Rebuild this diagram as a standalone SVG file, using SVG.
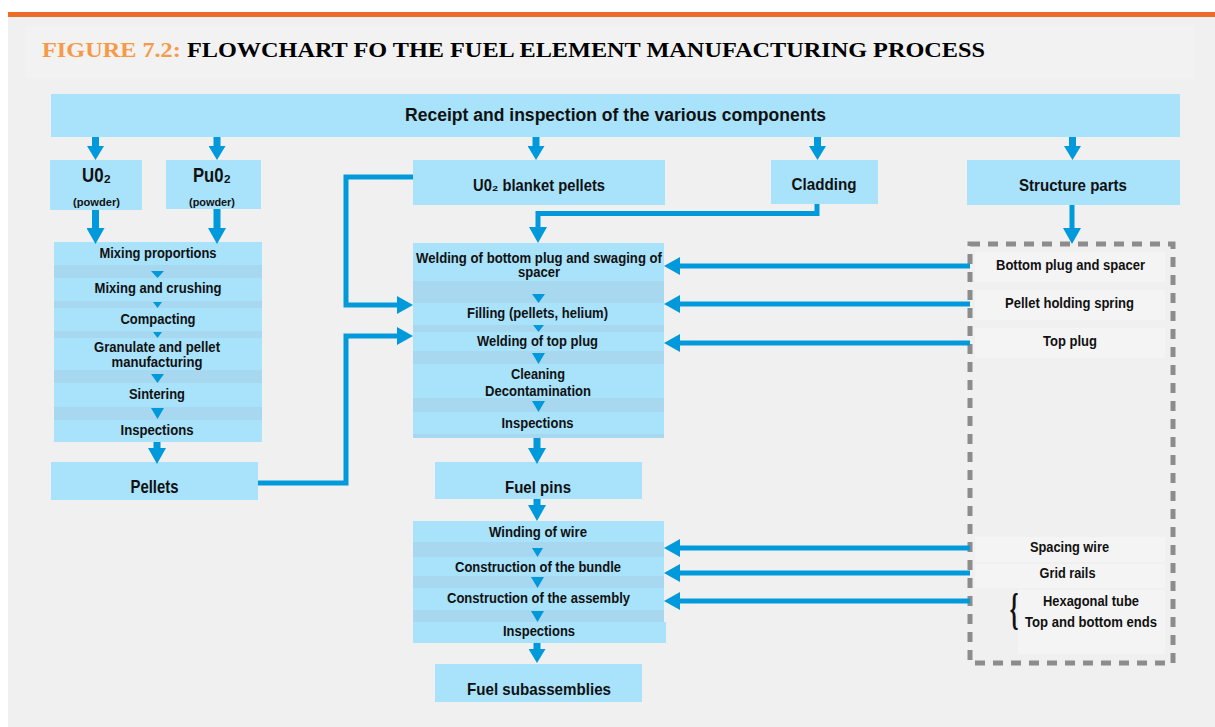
<svg xmlns="http://www.w3.org/2000/svg" width="1215" height="727" viewBox="0 0 1215 727">
<style>
.bx{fill:#a8e2fb}
.bd{fill:#a8d8ef}
.t{font-family:"Liberation Sans",Arial,sans-serif;font-weight:bold;fill:#111;text-anchor:middle}
.ln{fill:none;stroke:#0099db;stroke-width:5}
.lt{fill:none;stroke:#0099db;stroke-width:7}
.tri{fill:#0099db}
.lbl{fill:#f4f4f4}
</style>
<defs>
<marker id="ah" markerUnits="userSpaceOnUse" viewBox="0 0 16 18" markerWidth="16" markerHeight="18" refX="0" refY="9" orient="auto"><path d="M0,0 L16,9 L0,18 z" fill="#0099db"/></marker>
<marker id="ad" markerUnits="userSpaceOnUse" viewBox="0 0 14 17" markerWidth="14" markerHeight="17" refX="0" refY="8.5" orient="auto"><path d="M0,0 L14,8.5 L0,17 z" fill="#0099db"/></marker>
</defs>
<rect x="0" y="0" width="1215" height="727" fill="#ffffff"/>
<rect x="8" y="17" width="1207" height="710" fill="#f0f0f0"/>
<rect x="8" y="12" width="1207" height="5" fill="#ec6b28"/>
<g id="title">
<rect x="26" y="26" width="1168" height="52" fill="#f2f2f2"/>
<text x="42" y="57" font-family="'Liberation Serif','Times New Roman',serif" font-weight="bold" font-size="21" textLength="943" lengthAdjust="spacingAndGlyphs"><tspan fill="#f79a48">FIGURE 7.2:</tspan><tspan fill="#000"> FLOWCHART FO THE FUEL ELEMENT MANUFACTURING PROCESS</tspan></text>
</g>
<g id="receipt">
<rect class="bx" x="51" y="94" width="1129" height="43"/>
<text class="t" x="615.5" y="121" font-size="18" textLength="421" lengthAdjust="spacingAndGlyphs">Receipt and inspection of the various components</text>
</g>
<g id="uo2">
<rect class="bx" x="50" y="160" width="92" height="50"/>
<text class="t" x="96.5" y="182" font-size="21" textLength="29" lengthAdjust="spacingAndGlyphs">U0₂</text>
<text class="t" x="96.5" y="206" font-size="11" textLength="47" lengthAdjust="spacingAndGlyphs">(powder)</text>
</g>
<g id="puo2">
<rect class="bx" x="166" y="160" width="95" height="49"/>
<text class="t" x="212" y="182" font-size="21" textLength="38" lengthAdjust="spacingAndGlyphs">Pu0₂</text>
<text class="t" x="212" y="206" font-size="11" textLength="46" lengthAdjust="spacingAndGlyphs">(powder)</text>
</g>
<g id="pellet-process">
<rect class="bx" x="54" y="242" width="208" height="200"/>
<rect class="bd" x="54" y="265" width="208" height="13"/>
<rect class="bd" x="54" y="301" width="208" height="7"/>
<rect class="bd" x="54" y="331" width="208" height="7"/>
<rect class="bd" x="54" y="370" width="208" height="13"/>
<rect class="bd" x="54" y="407" width="208" height="13"/>
<polygon class="tri" points="151,271 164,271 157.5,278"/>
<polygon class="tri" points="153,302 162,302 157.5,308"/>
<polygon class="tri" points="153,332 162,332 157.5,338"/>
<polygon class="tri" points="151,374 164,374 157.5,383"/>
<polygon class="tri" points="151,408 164,408 157.5,419"/>
<text class="t" x="158" y="258" font-size="14" textLength="117" lengthAdjust="spacingAndGlyphs">Mixing proportions</text>
<text class="t" x="158" y="293" font-size="14" textLength="127" lengthAdjust="spacingAndGlyphs">Mixing and crushing</text>
<text class="t" x="158" y="324" font-size="14" textLength="75" lengthAdjust="spacingAndGlyphs">Compacting</text>
<text class="t" x="157" y="352" font-size="14" textLength="126" lengthAdjust="spacingAndGlyphs">Granulate and pellet</text>
<text class="t" x="157" y="367" font-size="14" textLength="91" lengthAdjust="spacingAndGlyphs">manufacturing</text>
<text class="t" x="157" y="399" font-size="14" textLength="56" lengthAdjust="spacingAndGlyphs">Sintering</text>
<text class="t" x="157" y="435" font-size="14" textLength="73" lengthAdjust="spacingAndGlyphs">Inspections</text>
</g>
<g id="pellets">
<rect class="bx" x="51" y="462" width="207" height="38"/>
<text class="t" x="154.5" y="493" font-size="18" textLength="48" lengthAdjust="spacingAndGlyphs">Pellets</text>
</g>
<g id="blanket">
<rect class="bx" x="413" y="160" width="252" height="45"/>
<text class="t" x="539" y="191" font-size="16" textLength="132" lengthAdjust="spacingAndGlyphs">U0₂ blanket pellets</text>
</g>
<g id="cladding">
<rect class="bx" x="771" y="160" width="107" height="44"/>
<text class="t" x="824" y="190" font-size="16" textLength="65" lengthAdjust="spacingAndGlyphs">Cladding</text>
</g>
<g id="structure">
<rect class="bx" x="967" y="160" width="213" height="45"/>
<text class="t" x="1073" y="191" font-size="16" textLength="108" lengthAdjust="spacingAndGlyphs">Structure parts</text>
</g>
<g id="pin-process">
<rect class="bx" x="413" y="243" width="251" height="195"/>
<rect class="bd" x="413" y="281" width="251" height="22"/>
<rect class="bd" x="413" y="325" width="251" height="7"/>
<rect class="bd" x="413" y="351" width="251" height="13"/>
<rect class="bd" x="413" y="398" width="251" height="14"/>
<rect class="bd" x="413" y="434" width="251" height="4"/>
<polygon class="tri" points="532,294 545,294 538.5,303"/>
<polygon class="tri" points="533,325 544,325 538.5,332"/>
<polygon class="tri" points="532,353 545,353 538.5,364"/>
<polygon class="tri" points="532,401 545,401 538.5,412"/>
<text class="t" x="539" y="263" font-size="14" textLength="246" lengthAdjust="spacingAndGlyphs">Welding of bottom plug and swaging of</text>
<text class="t" x="539" y="277" font-size="14" textLength="42" lengthAdjust="spacingAndGlyphs">spacer</text>
<text class="t" x="537.5" y="318" font-size="14" textLength="141" lengthAdjust="spacingAndGlyphs">Filling (pellets, helium)</text>
<text class="t" x="537.5" y="346" font-size="14" textLength="121" lengthAdjust="spacingAndGlyphs">Welding of top plug</text>
<text class="t" x="538" y="379" font-size="14" textLength="54" lengthAdjust="spacingAndGlyphs">Cleaning</text>
<text class="t" x="538" y="396" font-size="14" textLength="106" lengthAdjust="spacingAndGlyphs">Decontamination</text>
<text class="t" x="537.5" y="428" font-size="14" textLength="72" lengthAdjust="spacingAndGlyphs">Inspections</text>
</g>
<g id="fuel-pins">
<rect class="bx" x="435" y="462" width="207" height="37"/>
<text class="t" x="538" y="493" font-size="17" textLength="66" lengthAdjust="spacingAndGlyphs">Fuel pins</text>
</g>
<g id="assembly-process">
<rect class="bx" x="413" y="521" width="251" height="101"/>
<rect class="bx" x="413" y="622" width="253" height="21"/>
<rect class="bd" x="413" y="542" width="251" height="15"/>
<rect class="bd" x="413" y="576" width="251" height="12"/>
<rect class="bd" x="413" y="610" width="251" height="12"/>
<polygon class="tri" points="532,548 543,548 537.5,557"/>
<polygon class="tri" points="531,577 544,577 537.5,588"/>
<polygon class="tri" points="531,611 544,611 537.5,622"/>
<text class="t" x="538" y="537" font-size="14" textLength="98" lengthAdjust="spacingAndGlyphs">Winding of wire</text>
<text class="t" x="538" y="572" font-size="14" textLength="166" lengthAdjust="spacingAndGlyphs">Construction of the bundle</text>
<text class="t" x="538.5" y="603" font-size="14" textLength="183" lengthAdjust="spacingAndGlyphs">Construction of the assembly</text>
<text class="t" x="539" y="636" font-size="14" textLength="72" lengthAdjust="spacingAndGlyphs">Inspections</text>
</g>
<g id="fuel-subassemblies">
<rect class="bx" x="435" y="664" width="207" height="38"/>
<text class="t" x="539" y="695" font-size="17" textLength="144" lengthAdjust="spacingAndGlyphs">Fuel subassemblies</text>
</g>
<g id="structure-parts-list">
<rect class="lbl" x="975" y="252" width="190" height="30"/>
<rect class="lbl" x="975" y="290" width="190" height="30"/>
<rect class="lbl" x="975" y="328" width="190" height="30"/>
<rect class="lbl" x="975" y="537" width="190" height="25"/>
<rect class="lbl" x="975" y="564" width="190" height="24"/>
<rect class="lbl" x="1018" y="590" width="147" height="64"/>
<rect x="970" y="244" width="203" height="419" fill="none" stroke="#8c8c8c" stroke-width="5" stroke-dasharray="10,8"/>
<text class="t" x="1070.5" y="270" font-size="14" textLength="149" lengthAdjust="spacingAndGlyphs">Bottom plug and spacer</text>
<text class="t" x="1069.5" y="308" font-size="14" textLength="129" lengthAdjust="spacingAndGlyphs">Pellet holding spring</text>
<text class="t" x="1070" y="346" font-size="14" textLength="54" lengthAdjust="spacingAndGlyphs">Top plug</text>
<text class="t" x="1069.5" y="552" font-size="14" textLength="79" lengthAdjust="spacingAndGlyphs">Spacing wire</text>
<text class="t" x="1067.5" y="578" font-size="14" textLength="56" lengthAdjust="spacingAndGlyphs">Grid rails</text>
<text class="t" x="1091" y="606" font-size="14" textLength="96" lengthAdjust="spacingAndGlyphs">Hexagonal tube</text>
<text class="t" x="1091" y="627" font-size="14" textLength="132" lengthAdjust="spacingAndGlyphs">Top and bottom ends</text>
<text x="1014" y="624" font-family="'Liberation Serif','Times New Roman',serif" font-weight="bold" font-size="44" text-anchor="middle" fill="#111" transform="translate(1014 611) scale(0.5 1) translate(-1014 -611)">{</text>
</g>
<g id="connectors">
<path class="lt" d="M95.5,137 V146" marker-end="url(#ad)"/>
<path class="lt" d="M217,137 V146" marker-end="url(#ad)"/>
<path class="lt" d="M536,137 V146" marker-end="url(#ad)"/>
<path class="lt" d="M817.5,137 V146" marker-end="url(#ad)"/>
<path class="lt" d="M1072.5,137 V146" marker-end="url(#ad)"/>
<path class="lt" d="M95.5,210 V228" marker-end="url(#ah)"/>
<path class="lt" d="M217,209 V228" marker-end="url(#ah)"/>
<path class="lt" d="M157,442 V448" marker-end="url(#ah)"/>
<path class="ln" d="M413,177 H346 V305 H397" marker-end="url(#ah)"/>
<path class="ln" d="M258,483 H346 V336 H397" marker-end="url(#ah)"/>
<path class="ln" d="M817,204 V213.5 H538 V227" marker-end="url(#ah)"/>
<path class="ln" d="M1072,205 V228" marker-end="url(#ah)"/>
<path class="lt" d="M537,438 V448" marker-end="url(#ah)"/>
<path class="lt" d="M537,499 V505" marker-end="url(#ah)"/>
<path class="lt" d="M537,643 V649" marker-end="url(#ad)"/>
<path class="ln" d="M970,266 H680" marker-end="url(#ah)"/>
<path class="ln" d="M970,304 H680" marker-end="url(#ah)"/>
<path class="ln" d="M970,343 H680" marker-end="url(#ah)"/>
<path class="ln" d="M970,548 H680" marker-end="url(#ah)"/>
<path class="ln" d="M970,573 H680" marker-end="url(#ah)"/>
<path class="ln" d="M970,601 H680" marker-end="url(#ah)"/>
</g>
</svg>
